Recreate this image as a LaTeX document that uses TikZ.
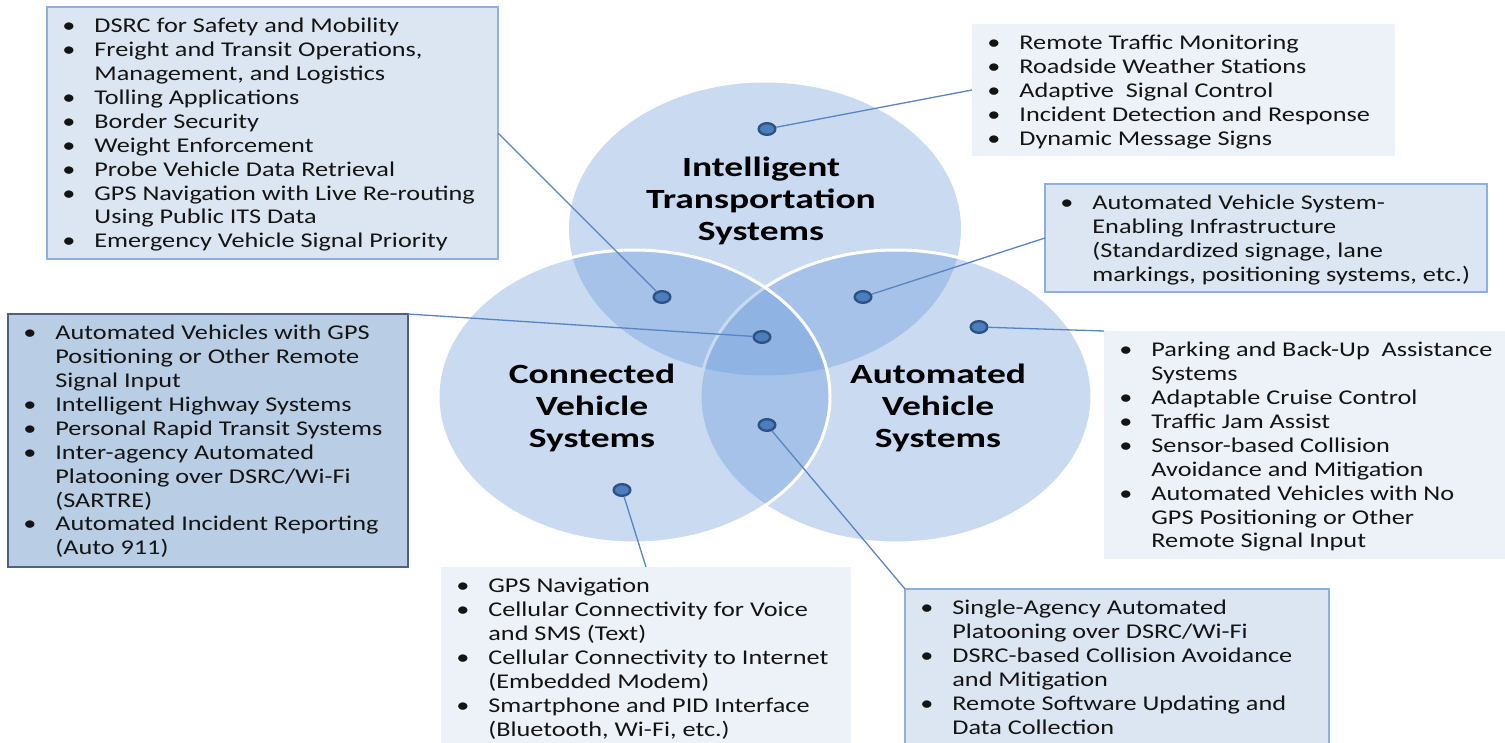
\documentclass[tikz,border=0pt]{standalone}
\usepackage{fontspec}
\setmainfont{Carlito}
\newfontfamily\listfont[FakeStretch=1.25]{Carlito}
\newfontfamily\headfont[FakeStretch=1.35]{Carlito}
\usetikzlibrary{shapes.geometric}

\definecolor{venn}{RGB}{100,150,215}
\definecolor{boxlight}{RGB}{220,230,242}
\definecolor{boxpale}{RGB}{237,242,249}
\definecolor{boxdark}{RGB}{185,205,229}
\definecolor{rimlight}{RGB}{142,176,222}
\definecolor{rimdark}{RGB}{80,96,128}
\definecolor{dotfill}{RGB}{74,126,190}
\definecolor{dotrim}{RGB}{48,82,130}
\definecolor{linkblue}{RGB}{88,132,196}
\definecolor{textdark}{RGB}{20,20,20}

\newcommand{\bul}{\strut\makebox[23.5pt][l]{\hspace{7.5pt}\textbullet}}
\newcommand{\gap}{\strut\hspace*{23.5pt}}

\tikzset{
  venncircle/.style={ellipse, minimum width=196pt, minimum height=146.5pt, inner sep=0pt,
    fill=venn, fill opacity=0.35},
  vennrim/.style={venncircle, draw=white, line width=1.5pt},
  lightbox/.style={rectangle, anchor=north west, outer sep=0pt, inner sep=0pt,
    fill=boxlight, draw=rimlight, line width=0.6pt},
  palebox/.style={rectangle, anchor=north west, outer sep=0pt, inner sep=0pt, fill=boxpale},
  darkbox/.style={rectangle, anchor=north west, outer sep=0pt, inner sep=0pt,
    fill=boxdark, draw=rimdark, line width=0.6pt},
  listtext/.style={anchor=north west, yshift=-4.3pt, inner sep=0pt, align=left, text=textdark,
    font=\listfont\fontsize{10.5}{11.95}\selectfont},
  title/.style={align=center, inner sep=0pt, text=black,
    font=\headfont\bfseries\fontsize{13.9}{16}\selectfont},
  dot/.style={ellipse, minimum width=8.3pt, minimum height=5.8pt, inner sep=0pt,
    fill=dotfill, draw=dotrim, line width=1.2pt},
  link/.style={draw=linkblue, line width=0.65pt}
}

\begin{document}
\begin{tikzpicture}[x=0.5pt, y=-0.5pt]
  \useasboundingbox (0,0) rectangle (1505,743);
  \clip (0,0) rectangle (1505,743);

  % the three sets
  \node[venncircle] (its) at (765,229) {};
  \node[vennrim] (avs) at (896,396.5) {};
  \node[vennrim] (cvs) at (634,396.5) {};

  % boxes
  \node[lightbox, minimum width=225.5pt, minimum height=126pt] (itscv) at (47,7) {};
  \node[palebox, minimum width=211.5pt, minimum height=66pt] (itsonly) at (972,24) {};
  \node[lightbox, minimum width=221pt, minimum height=54pt] (itsav) at (1045,184) {};
  \node[darkbox, minimum width=200pt, minimum height=126.5pt] (allthree) at (8,314) {};
  \node[palebox, minimum width=203pt, minimum height=114pt] (avonly) at (1104,331) {};
  \node[palebox, minimum width=205pt, minimum height=95pt] (cvonly) at (441,567) {};
  \node[lightbox, minimum width=212pt, minimum height=85pt] (cvav) at (905,589) {};

  \node[listtext] at (itscv.north west) {%
    \bul DSRC for Safety and Mobility\\
    \bul Freight and Transit Operations,\\
    \gap Management, and Logistics\\
    \bul Tolling Applications\\
    \bul Border Security\\
    \bul Weight Enforcement\\
    \bul Probe Vehicle Data Retrieval\\
    \bul GPS Navigation with Live Re-routing\\
    \gap Using Public ITS Data\\
    \bul Emergency Vehicle Signal Priority};
  \node[listtext] at (itsonly.north west) {%
    \bul Remote Traffic Monitoring\\
    \bul Roadside Weather Stations\\
    \bul Adaptive~ Signal Control\\
    \bul Incident Detection and Response\\
    \bul Dynamic Message Signs};
  \node[listtext] at (itsav.north west) {%
    \bul Automated Vehicle System-\\
    \gap Enabling Infrastructure\\
    \gap (Standardized signage, lane\\
    \gap markings, positioning systems, etc.)};
  \node[listtext] at (allthree.north west) {%
    \bul Automated Vehicles with GPS\\
    \gap Positioning or Other Remote\\
    \gap Signal Input\\
    \bul Intelligent Highway Systems\\
    \bul Personal Rapid Transit Systems\\
    \bul Inter-agency Automated\\
    \gap Platooning over DSRC/Wi-Fi\\
    \gap (SARTRE)\\
    \bul Automated Incident Reporting\\
    \gap (Auto 911)};
  \node[listtext] at (avonly.north west) {%
    \bul Parking and Back-Up~ Assistance\\
    \gap Systems\\
    \bul Adaptable Cruise Control\\
    \bul Traffic Jam Assist\\
    \bul Sensor-based Collision\\
    \gap Avoidance and Mitigation\\
    \bul Automated Vehicles with No\\
    \gap GPS Positioning or Other\\
    \gap Remote Signal Input};
  \node[listtext] at (cvonly.north west) {%
    \bul GPS Navigation\\
    \bul Cellular Connectivity for Voice\\
    \gap and SMS (Text)\\
    \bul Cellular Connectivity to Internet\\
    \gap (Embedded Modem)\\
    \bul Smartphone and PID Interface\\
    \gap (Bluetooth, Wi-Fi, etc.)};
  \node[listtext] at (cvav.north west) {%
    \bul Single-Agency Automated\\
    \gap Platooning over DSRC/Wi-Fi\\
    \bul DSRC-based Collision Avoidance\\
    \gap and Mitigation\\
    \bul Remote Software Updating and\\
    \gap Data Collection};

  % set names
  \node[title] (itsname) at (761,201) {Intelligent\\Transportation\\Systems};
  \node[title] (cvname) at (592,408) {Connected\\Vehicle\\Systems};
  \node[title] (avname) at (938,408) {Automated\\Vehicle\\Systems};

  % markers
  \node[dot] (d-its) at (767,129) {};
  \node[dot] (d-itscv) at (662,297) {};
  \node[dot] (d-itsav) at (863,297) {};
  \node[dot] (d-all) at (762,337) {};
  \node[dot] (d-av) at (979,327) {};
  \node[dot] (d-cv) at (622,490) {};
  \node[dot] (d-cvav) at (767,425) {};

  \draw[link] (d-its) -- (itsonly.west);
  \draw[link] (d-itscv) -- (itscv.east);
  \draw[link] (d-itsav) -- (itsav.west);
  \draw[link] (d-all) -- (allthree.north east);
  \draw[link] (d-av) -- (avonly.north west);
  \draw[link] (d-cv) -- (cvonly.north);
  \draw[link] (d-cvav) -- (cvav.north west);
\end{tikzpicture}
\end{document}
